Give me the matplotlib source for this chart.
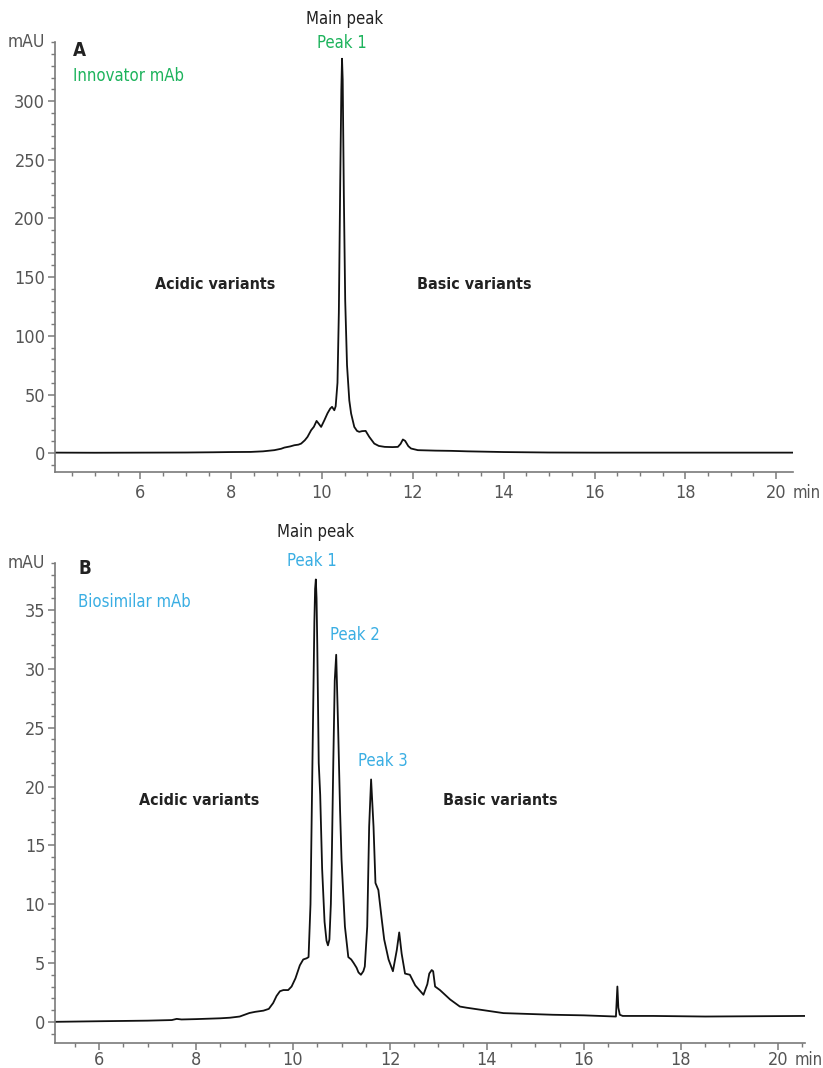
import matplotlib
matplotlib.use('Agg')
import matplotlib.pyplot as plt
from matplotlib.ticker import MultipleLocator

plt.rcParams['font.family'] = ['DejaVu Sans']
plt.rcParams['font.stretch'] = 'condensed'

# Panel A - innovator mAb (retention time in min, absorbance in mAU)
t_a = [4.12, 5.0, 6.0, 7.0, 7.6, 8.0, 8.43, 8.7, 8.95, 9.1, 9.17, 9.3, 9.39, 9.48,
       9.54, 9.62, 9.68, 9.76, 9.82, 9.88, 9.93, 9.98, 10.05, 10.12, 10.18, 10.22,
       10.27, 10.30, 10.34, 10.37, 10.40, 10.425, 10.44, 10.455, 10.48, 10.51, 10.55,
       10.60, 10.64, 10.71, 10.77, 10.82, 10.88, 10.96, 11.04, 11.15, 11.25, 11.38,
       11.55, 11.67, 11.73, 11.78, 11.83, 11.9, 11.96, 12.11, 12.5, 12.85, 13.2, 14.0,
       15.0, 16.0, 18.0, 20.37]
mau_a = [0.5, 0.4, 0.5, 0.6, 0.8, 1.0, 1.1, 1.6, 2.6, 3.8, 4.8, 5.8, 6.8, 7.3,
         8.2, 11.0, 13.9, 19.6, 22.5, 27.5, 25.0, 22.4, 28.0, 34.0, 38.0, 39.5,
         36.6, 40.0, 60.0, 120.0, 230.0, 310.0, 336.0, 318.0, 220.0, 130.0, 75.0,
         45.0, 33.8, 22.4, 19.0, 18.2, 18.8, 19.0, 13.9, 8.2, 6.2, 5.4,
         5.2, 5.4, 8.0, 11.7, 10.5, 6.0, 4.0, 2.6, 2.2, 2.0, 1.6, 1.0,
         0.6, 0.5, 0.5, 0.5]

# Panel B - biosimilar mAb
t_b = [5.09, 6.0, 7.0, 7.5, 7.6, 7.7, 8.0, 8.5, 8.7, 8.9, 9.0, 9.1, 9.22, 9.39,
       9.5, 9.59, 9.66, 9.73, 9.80, 9.90, 9.97, 10.05, 10.14, 10.21, 10.28, 10.32,
       10.36, 10.40, 10.44, 10.455, 10.47, 10.485, 10.50, 10.53, 10.56, 10.60, 10.65,
       10.69, 10.72, 10.75, 10.78, 10.80, 10.83, 10.86, 10.89, 10.93, 10.97, 11.0,
       11.07, 11.14, 11.20, 11.25, 11.31, 11.35, 11.40, 11.45, 11.48, 11.53, 11.57,
       11.61, 11.66, 11.70, 11.76, 11.83, 11.88, 11.97, 12.06, 12.14, 12.19, 12.24,
       12.31, 12.41, 12.52, 12.69, 12.77, 12.81, 12.86, 12.89, 12.93, 13.03, 13.24,
       13.44, 13.58, 14.34, 15.36, 16.0, 16.66, 16.69, 16.71, 16.74, 16.8, 17.43,
       18.5, 20.56]
mau_b = [0.0, 0.05, 0.1, 0.15, 0.25, 0.2, 0.23, 0.3, 0.35, 0.45, 0.6, 0.75, 0.85, 0.95,
         1.1, 1.6, 2.2, 2.6, 2.7, 2.7, 3.0, 3.7, 4.8, 5.3, 5.4, 5.5,
         10.0, 22.0, 34.0, 36.8, 37.6, 36.0, 32.0, 22.0, 19.3, 13.0, 8.5,
         6.9, 6.5, 7.0, 10.0, 14.0, 22.0, 29.0, 31.2, 25.0, 18.0, 13.8,
         8.1, 5.5, 5.3, 5.0, 4.6, 4.2, 4.0, 4.3, 4.7, 8.1, 16.6,
         20.6, 16.6, 11.8, 11.2, 8.7, 7.0, 5.3, 4.3, 6.1, 7.6, 5.8,
         4.1, 4.0, 3.1, 2.3, 3.2, 4.1, 4.4, 4.3, 3.0, 2.7, 1.9,
         1.3, 1.2, 0.74, 0.6, 0.55, 0.45, 3.0, 1.2, 0.6, 0.5, 0.5,
         0.45, 0.5]

x_ticks = [6, 8, 10, 12, 14, 16, 18, 20]
y_ticks_a = [0, 50, 100, 150, 200, 250, 300]
y_ticks_b = [0, 5, 10, 15, 20, 25, 30, 35]
GREEN = '#1db35c'
BLUE = '#3aaee3'
GREY = '#7a7a7a'
LBL = '#555555'
TXT = '#222222'

W, H = 823, 1068
fig = plt.figure(figsize=(W / 100, H / 100), dpi=100)


def px_axes(left, top, right, bottom):
    return fig.add_axes([left / W, 1 - bottom / H, (right - left) / W, (bottom - top) / H])


def style(ax, xlim, ylim, yticks, ymin, xpad):
    ax.set_xlim(*xlim)
    ax.set_ylim(*ylim)
    for s in ['top', 'right']:
        ax.spines[s].set_visible(False)
    for s in ['left', 'bottom']:
        ax.spines[s].set_color(GREY)
        ax.spines[s].set_linewidth(1.2)
    ax.set_xticks(x_ticks)
    ax.xaxis.set_minor_locator(MultipleLocator(0.5))
    ax.set_yticks(yticks)
    ax.yaxis.set_minor_locator(MultipleLocator(ymin))
    ax.tick_params(which='major', length=5, width=1.1, color=GREY, labelcolor=LBL,
                   labelsize=13, pad=2)
    ax.tick_params(axis='x', which='major', pad=xpad)
    ax.tick_params(which='minor', length=3, width=1.0, color=GREY)
    # unit label sits right after the last tick label ("20 min")
    ax.annotate('min', xy=(x_ticks[-1], 0), xycoords=ax.get_xaxis_transform(),
                xytext=(12, -(5 + xpad)), textcoords='offset points',
                ha='left', va='top', fontsize=12, color=LBL)
    ax.text(-0.013, 1.0, 'mAU', transform=ax.transAxes, ha='right', va='center',
            fontsize=12.5, color=LBL)


# ---- Panel A ----
ax1 = px_axes(55, 41.7, 793, 472)
ax1.plot(t_a, mau_a, color='#111111', lw=1.3)
style(ax1, (4.12, 20.37), (-16, 350.5), y_ticks_a, 10, 4)
ax1.text(4.52, 343, 'A', fontsize=13.5, fontweight='bold', color=TXT, va='center')
ax1.text(4.52, 321, 'Innovator mAb', fontsize=12, color=GREEN, va='center')
ax1.text(10.49, 370, 'Main peak', fontsize=12, color=TXT, ha='center', va='center')
ax1.text(10.44, 349.5, 'Peak 1', fontsize=12, color=GREEN, ha='center', va='center')
ax1.text(7.64, 144, 'Acidic variants', fontsize=11.5, fontweight='bold', color=TXT,
         ha='center', va='center')
ax1.text(13.36, 144, 'Basic variants', fontsize=11.5, fontweight='bold', color=TXT,
         ha='center', va='center')

# ---- Panel B ----
ax2 = px_axes(55, 563, 805, 1043)
ax2.plot(t_b, mau_b, color='#111111', lw=1.3)
style(ax2, (5.09, 20.56), (-1.8, 39), y_ticks_b, 1, 1)
ax2.text(5.57, 38.5, 'B', fontsize=13.5, fontweight='bold', color=TXT, va='center')
ax2.text(5.57, 35.7, 'Biosimilar mAb', fontsize=12, color=BLUE, va='center')
ax2.text(10.47, 41.6, 'Main peak', fontsize=12, color=TXT, ha='center', va='center')
ax2.text(10.39, 39.2, 'Peak 1', fontsize=12, color=BLUE, ha='center', va='center')
ax2.text(11.28, 32.9, 'Peak 2', fontsize=12, color=BLUE, ha='center', va='center')
ax2.text(11.86, 22.2, 'Peak 3', fontsize=12, color=BLUE, ha='center', va='center')
ax2.text(8.06, 18.8, 'Acidic variants', fontsize=11.5, fontweight='bold', color=TXT,
         ha='center', va='center')
ax2.text(14.27, 18.8, 'Basic variants', fontsize=11.5, fontweight='bold', color=TXT,
         ha='center', va='center')

fig.savefig('out.png', dpi=100)
